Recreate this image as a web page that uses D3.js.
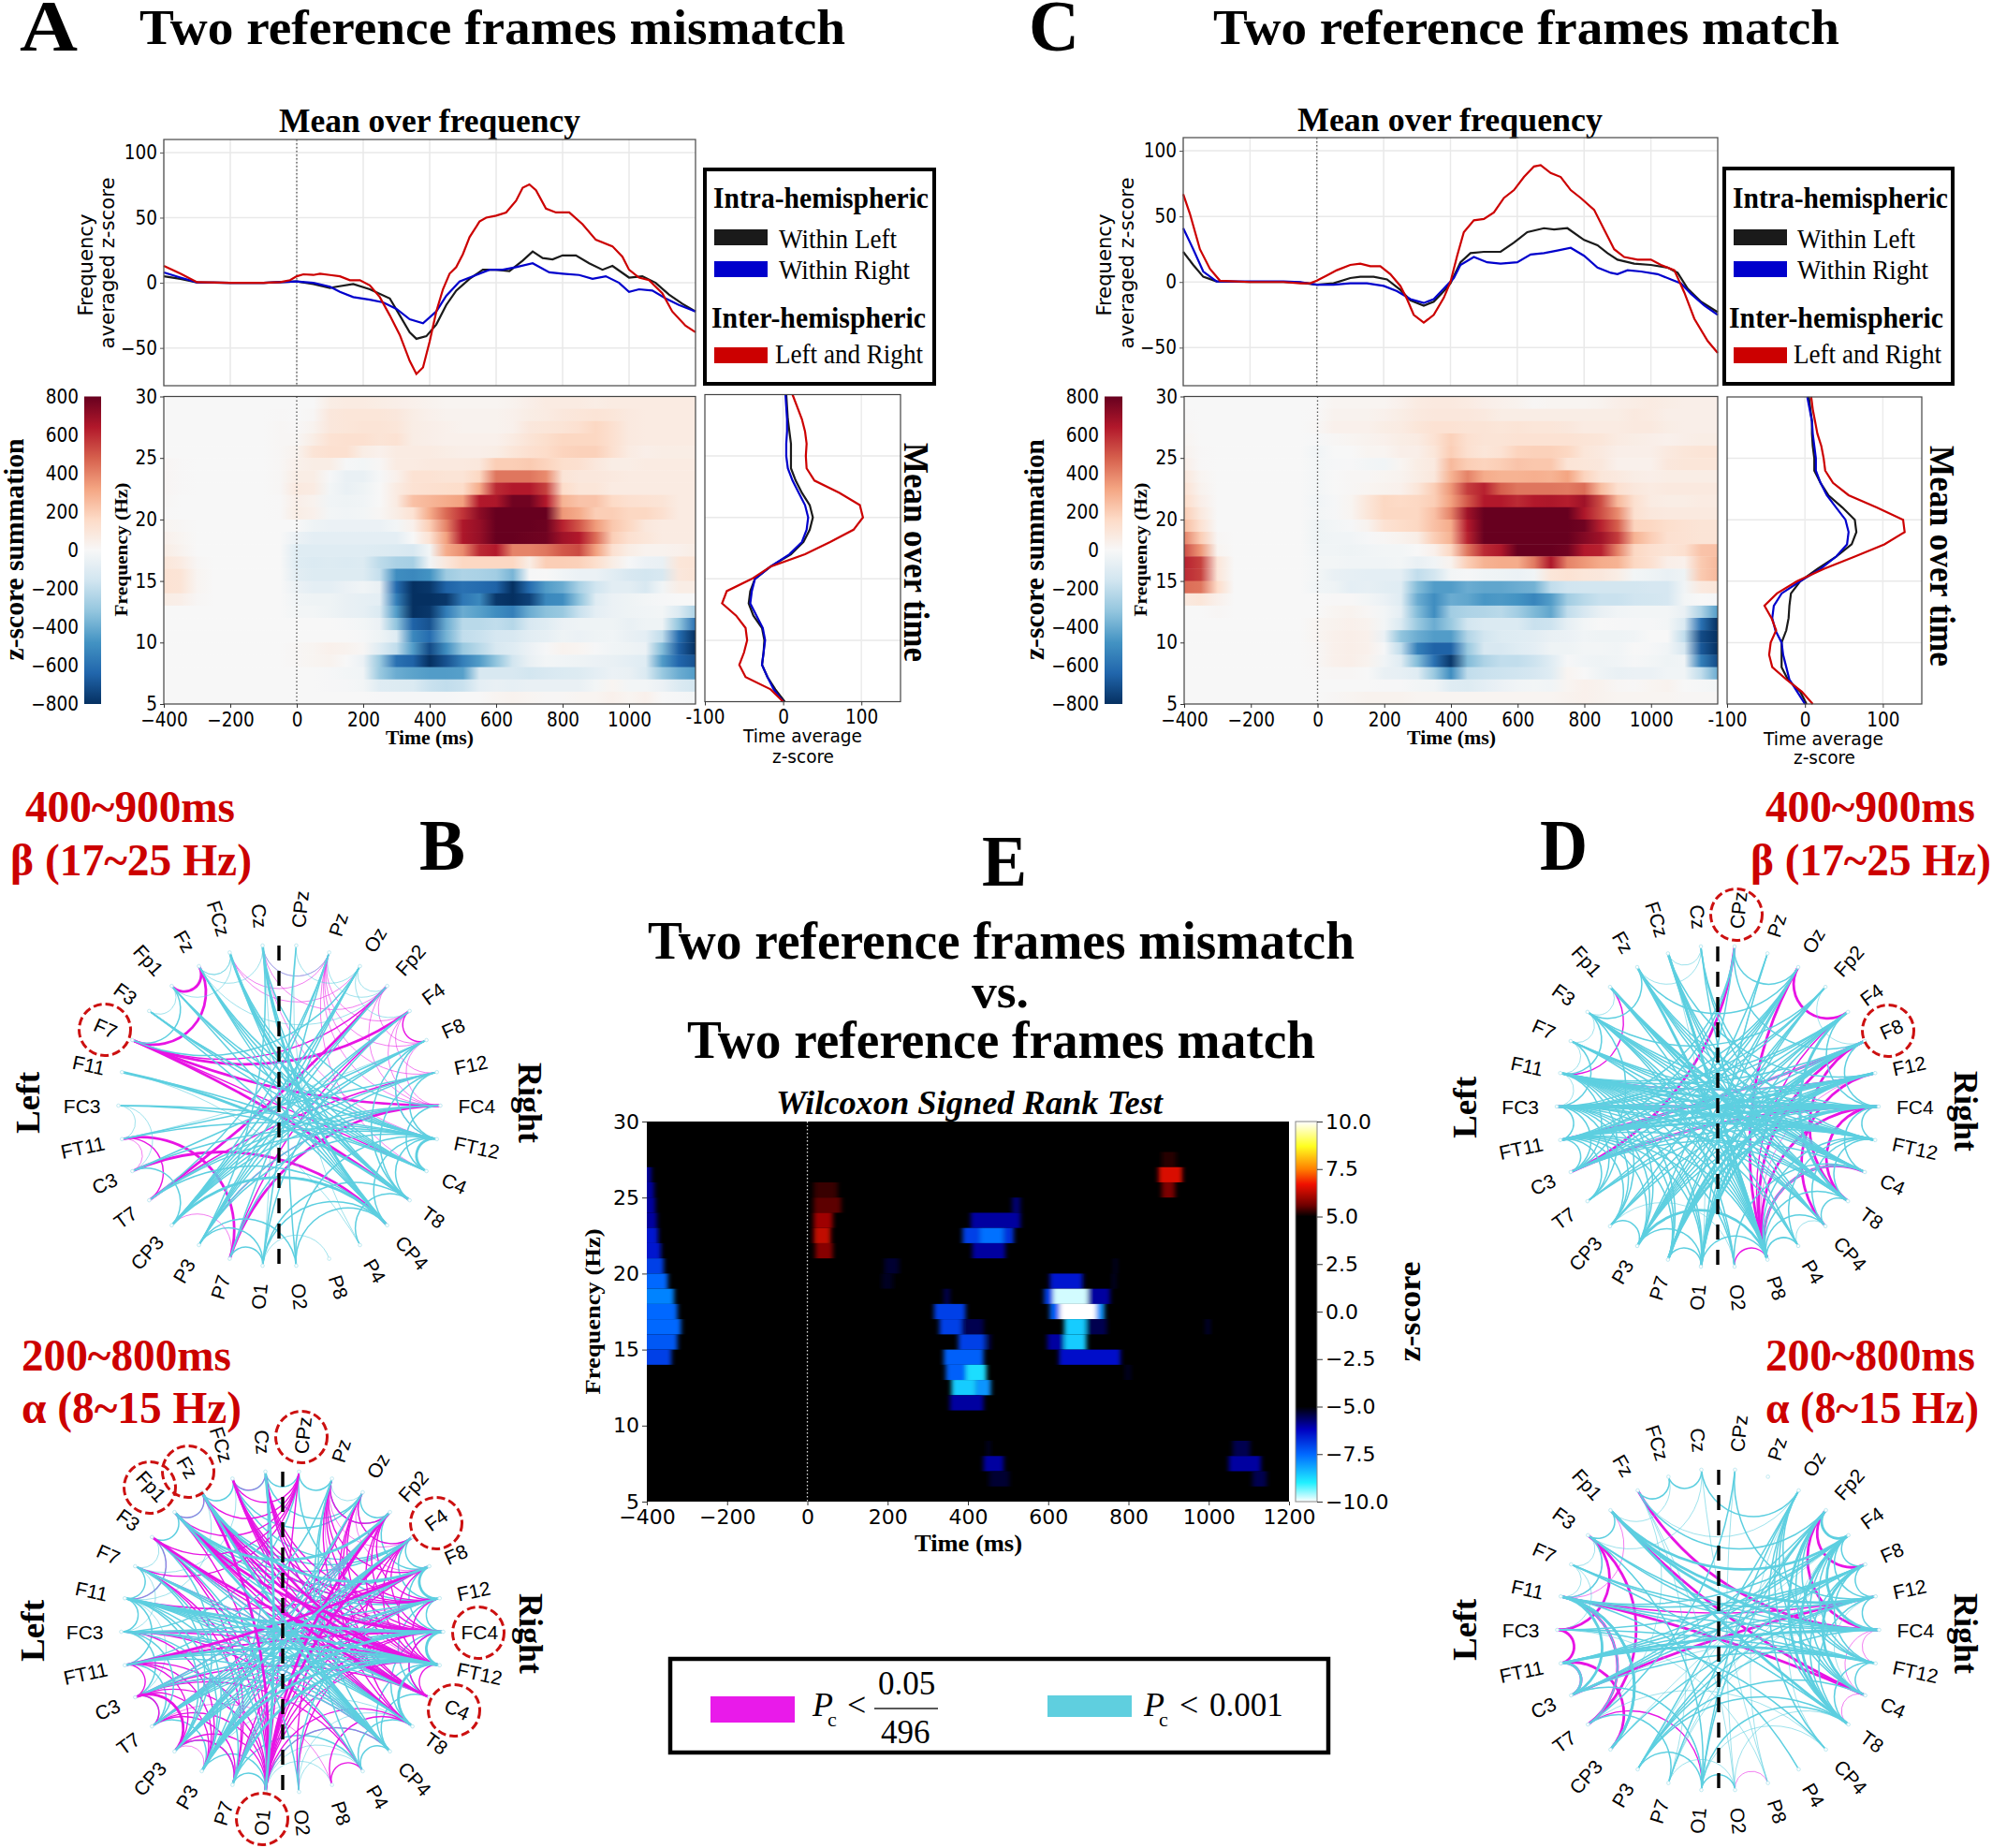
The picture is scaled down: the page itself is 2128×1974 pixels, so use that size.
<!DOCTYPE html>
<html>
<head>
<meta charset="utf-8">
<style>
html, body { margin: 0; padding: 0; background: #fff; }
svg { display: block; }
</style>
<script src="https://cdn.jsdelivr.net/npm/d3@7"></script>
</head>
<body>
<svg id="fig" width="2128" height="1974"></svg>
<script>
// time axis of the two summation heatmaps (ms), one value per column
const heatTimes = [-400,-350,-300,-250,-200,-150,-100,-50,0,50,100,150,200,250,300,350,400,450,500,550,600,650,700,750,800,850,900,950,1000,1050,1100,1150,1200];
const freqs = [29,28,27,26,25,24,23,22,21,20,19,18,17,16,15,14,13,12,11,10,9,8,7,6,5];
const timeTicks = [-400,-200,0,200,400,600,800,1000];
const eTimeTicks = [-400,-200,0,200,400,600,800,1000,1200];
const freqTicks = [5,10,15,20,25,30];
const frameYTicks = [-50,0,50,100];
const sideXTicks = [-100,0,100];
const sumTicks = [-800,-600,-400,-200,0,200,400,600,800];
const zTicks = [-10,-7.5,-5,-2.5,0,2.5,5,7.5,10];

// A: mean over frequency, [time, value]
const aBlack = [[-400,5],[-350,3],[-300,.3],[-200,0],[-100,0],[-50,.5],[0,1],[50,-1],[100,-4],[120,-3],[170,-1],[220,-5],[280,-12],[310,-25],[340,-38],[360,-43],[390,-41],[420,-32],[450,-17],[480,-6],[520,3],[560,10],[600,10],[640,9],[680,17],[710,24],[740,19],[770,18],[800,21],[840,21],[880,15],[920,10],[950,13],[1000,4],[1040,5],[1080,0],[1120,-9],[1160,-16],[1200,-22]];
const aBlue = [[-400,8],[-350,4],[-300,.3],[-200,0],[-100,0],[-50,.5],[0,1],[50,0],[100,-3],[130,-7],[170,-11],[220,-13],[260,-15],[300,-20],[340,-28],[380,-31],[420,-22],[450,-10],[490,1],[540,6],[580,10],[620,10],[660,12],[710,15],[760,8],[800,7],[850,6],[890,3],[930,5],[970,0],[1000,-7],[1030,-5],[1070,-6],[1110,-12],[1150,-17],[1200,-22]];
const aRed = [[-400,13],[-350,7],[-300,.5],[-200,0],[-100,0],[-50,.5],[-20,2],[0,5],[20,6.5],[50,6],[70,7],[100,6],[130,5],[160,2],[190,2],[220,-2],[250,-11],[280,-25],[310,-40],[340,-60],[360,-70],[380,-65],[400,-45],[420,-22],[440,-5],[460,7],[480,12],[500,22],[520,35],[550,47],[570,50],[600,51.5],[630,54],[660,63],[680,73],[700,75.5],[720,71],[750,57],[780,54],[820,54],[860,45],[900,33],[950,28],[980,20],[1000,10],[1030,4],[1060,2],[1100,-8],[1130,-22],[1170,-33],[1200,-38]];

// C: mean over frequency, [time, value]
const cBlack = [[-400,23],[-370,13],[-340,4],[-300,.5],[-200,0],[-100,0],[-50,-.5],[0,-2],[50,-1],[100,3],[130,4],[170,4],[210,2],[250,-6],[280,-14],[320,-18],[350,-15],[380,-7],[400,-1],[430,15],[460,22],[500,23],[550,23],[590,30],[630,38],[680,41],[710,40],[750,41],[800,32],[840,28],[870,22],[900,17],[950,14],[1000,13],[1050,11],[1080,7],[1110,-5],[1150,-15],[1200,-23]];
const cBlue = [[-400,41],[-370,25],[-340,8],[-300,.5],[-200,.5],[-100,.5],[-50,0],[0,-2],[50,-2],[100,-1],[150,-1],[200,-3],[240,-7],[280,-13],[320,-16],[350,-13],[380,-5],[410,3],[430,13],[470,19],[510,15],[550,14],[600,15],[640,21],[680,22],[720,24],[760,26],[800,20],[840,11],[880,7],[900,6],[930,9],[970,8],[1020,6],[1060,2],[1090,-1],[1120,-9],[1160,-18],[1200,-25]];
const cRed = [[-400,67],[-380,52],[-350,25],[-320,10],[-290,1],[-200,0],[-100,0],[-50,-1],[-20,-1],[0,1],[30,5],[60,9],[100,13],[130,14],[160,12],[190,12],[220,6],[250,-3],[270,-13],[290,-25],[320,-31],[350,-25],[380,-12],[400,0],[420,20],[440,38],[470,47],[500,48],[530,53],[560,64],[590,70],[620,80],[650,88],[670,89],[700,83],[730,80],[760,70],[790,64],[830,55],[860,40],[890,25],[920,19],[960,17],[1000,17],[1030,13],[1070,9],[1100,-8],[1130,-28],[1170,-45],[1200,-54]];

// mean over time: one value per Hz, 5 up to 30
const sideFreqs = [5,6,7,8,9,10,11,12,13,14,15,16,17,18,19,20,21,22,23,24,25,26,27,28,29,30];
const aSideRed = [0,-16,-48,-56,-50,-46,-48,-60,-78,-72,-40,-16,28,60,90,102,98,72,40,30,29,30,28,24,18,12];
const aSideBlack = [2,-10,-20,-27,-25,-24,-27,-38,-44,-42,-36,-16,10,26,34,38,34,24,16,10,10,10,8,6,5,4];
const aSideBlue = [0,-12,-20,-27,-25,-23,-26,-34,-42,-40,-36,-16,8,24,30,32,28,20,12,6,4,4,5,5,4,3];
const cSideRed = [10,-4,-24,-42,-46,-44,-37,-43,-52,-36,-10,24,64,102,128,126,92,56,36,26,24,21,16,13,10,8];
const cSideBlack = [2,-6,-22,-30,-30,-30,-24,-21,-20,-18,-6,16,40,60,66,64,48,30,20,12,12,10,9,9,7,5];
const cSideBlue = [0,-10,-20,-24,-28,-30,-38,-42,-40,-30,-6,20,40,54,56,52,40,28,20,14,14,12,10,9,6,3];

// z-score summation, rows follow freqs, columns follow heatTimes
const aHeat = [
[0,0,0,0,0,0,0,0,0,0,60,70,70,60,50,40,30,20,20,20,20,30,50,70,70,70,60,70,70,70,70,70,70],
[0,0,0,0,0,0,0,5,0,10,90,100,100,100,90,60,40,30,30,30,30,40,60,70,90,100,110,100,80,70,70,70,70],
[0,0,0,0,0,0,0,10,5,30,90,100,110,110,100,60,50,40,30,30,30,40,90,100,110,130,170,130,80,70,70,70,70],
[0,0,0,0,0,0,0,10,10,60,120,130,130,110,120,60,50,40,40,40,40,70,110,140,170,170,170,130,80,70,70,70,70],
[0,0,0,0,0,0,0,10,30,110,130,130,60,40,70,70,70,60,50,50,60,100,130,150,180,190,190,130,70,50,60,60,60],
[15,5,0,0,0,0,0,10,40,60,60,-10,-20,10,70,70,80,80,80,90,200,200,210,180,140,130,90,60,60,70,70,70,70],
[15,5,0,0,0,0,0,10,60,60,-10,-60,-60,-10,40,120,120,110,110,170,430,430,430,380,110,90,90,80,70,70,70,70,70],
[15,5,0,0,0,0,0,10,80,70,-20,-60,-40,0,70,120,130,140,150,300,600,640,640,550,150,100,100,70,70,70,70,70,70],
[10,0,0,0,0,0,0,5,50,30,-30,-40,-30,0,70,240,270,300,330,640,650,780,780,640,280,230,230,160,130,120,110,70,70],
[5,0,0,0,0,0,0,5,60,40,-20,-30,-20,10,60,120,300,460,580,720,800,800,800,800,350,300,200,200,170,170,130,70,70],
[20,10,0,0,0,0,0,0,0,-40,-50,-50,-50,-50,-20,40,200,400,650,700,800,800,800,790,620,500,340,220,170,90,70,70,70],
[40,20,0,0,0,0,0,0,-50,-80,-80,-80,-80,-80,-80,0,120,330,650,700,800,800,790,780,680,640,450,200,130,100,70,70,70],
[60,30,0,0,0,0,0,0,-100,-100,-100,-100,-100,-110,-120,-130,-20,300,380,600,640,400,400,430,500,530,330,130,60,30,30,40,60],
[100,70,10,0,0,0,0,0,-100,-120,-110,-120,-110,-210,-260,-270,-30,90,170,170,170,170,60,200,200,190,140,60,-10,-50,-60,100,110],
[120,110,20,0,0,0,0,0,-90,-110,-110,-110,-110,-190,-500,-520,-480,-290,-250,-260,-280,-370,-10,0,-30,-50,-50,-90,-130,-150,-130,90,110],
[120,110,20,0,0,0,0,0,-50,-80,-80,-50,-30,-60,-620,-800,-780,-650,-600,-620,-650,-800,-620,-450,-400,-260,-160,-90,-90,-130,-30,60,60],
[60,50,10,0,0,0,0,0,-30,-40,-40,-60,-70,-80,-550,-800,-800,-780,-580,-520,-780,-800,-750,-520,-500,-320,-100,-50,-40,-20,-10,0,0],
[0,0,0,0,0,0,0,0,-20,-20,-40,-60,-70,-120,-450,-800,-780,-560,-400,-440,-500,-550,-400,-330,-300,-180,-80,-50,-40,-30,-20,-120,-250],
[0,0,0,0,0,0,0,0,0,0,0,-10,-20,-50,-320,-650,-700,-400,-220,-220,-200,-230,-130,-100,-50,-40,-40,-40,-60,-40,-40,-320,-600],
[0,0,0,0,0,0,0,0,0,0,0,0,-10,-40,-100,-520,-620,-380,-200,-180,-140,-130,-90,-70,-40,-50,-40,-30,-60,-80,-200,-620,-800],
[0,0,0,0,0,0,0,0,10,20,40,30,10,-100,-200,-450,-720,-500,-300,-220,-130,-100,-50,-10,30,20,-10,-30,-40,-50,-350,-660,-800],
[0,0,0,0,0,0,0,0,10,20,30,0,-50,-300,-600,-650,-800,-700,-550,-450,-320,-150,-60,-20,-30,-40,-50,-60,-80,-100,-450,-640,-700],
[0,0,0,0,0,0,0,0,0,0,-10,-20,-30,-300,-400,-430,-450,-450,-440,-130,-130,-130,-150,-130,-120,-110,-80,-50,-60,-120,-300,-400,-450],
[0,0,0,0,0,0,0,0,0,0,-5,-10,-20,-100,-110,-120,-180,-200,-180,-80,-60,-70,-60,-60,-60,-60,-20,20,-20,-20,-50,-120,-150],
[0,0,0,0,0,0,0,0,0,0,0,0,0,-5,-10,-10,-10,-10,0,0,20,30,20,10,10,20,20,40,20,40,0,-10,-20]
];
const cHeat = [
[0,0,0,0,0,0,0,0,0,20,20,20,20,40,70,80,80,70,50,40,30,10,20,20,20,30,50,60,70,60,50,50,50],
[5,0,0,0,0,0,0,0,5,30,30,30,40,60,80,90,90,90,80,60,60,60,60,60,60,60,60,80,70,50,50,50,50],
[10,0,0,0,0,0,0,0,10,40,40,40,60,70,100,120,120,110,110,100,110,100,100,90,70,70,70,80,80,60,50,50,50],
[20,0,0,0,0,0,0,0,-10,10,20,30,40,60,70,120,190,130,110,110,120,120,120,120,110,100,70,60,50,40,50,60,60],
[30,5,0,0,0,0,0,0,-30,0,0,20,20,50,50,100,200,130,100,120,180,190,190,170,100,80,50,50,50,80,100,110,110],
[50,5,0,0,0,0,0,0,-20,-10,-5,-20,-30,20,60,80,260,200,180,200,230,220,220,110,100,90,40,40,40,90,100,100,100],
[90,20,0,0,0,0,0,0,-20,0,10,10,20,30,60,90,280,400,300,280,280,290,280,320,180,100,80,60,50,60,60,60,60],
[120,30,0,0,0,0,0,0,-20,0,10,20,30,40,100,200,350,560,620,480,430,430,430,420,450,250,130,90,70,80,80,80,80],
[150,50,0,0,0,0,0,0,-30,-10,20,100,170,160,170,200,330,500,640,640,600,640,650,630,680,520,260,130,70,60,60,70,70],
[200,80,0,0,0,0,0,0,-20,-10,20,100,170,170,170,240,400,680,800,800,800,800,800,800,650,520,380,130,90,80,80,80,80],
[250,120,0,0,0,0,0,0,-40,-20,-10,30,120,150,170,240,300,640,800,800,800,800,800,800,780,620,480,180,170,140,120,110,110],
[400,200,10,0,0,0,0,0,-40,-30,-30,-10,10,30,60,200,280,620,800,800,800,800,800,800,740,680,560,280,200,130,120,110,110],
[520,350,20,0,0,0,0,0,-30,-30,-40,-30,-20,-20,0,40,170,430,600,650,800,800,800,780,640,620,400,170,130,110,130,230,240],
[620,550,100,0,0,0,0,0,-20,-20,-30,-30,-30,-20,-60,-30,30,200,280,300,300,420,650,400,350,300,280,170,130,50,40,210,260],
[600,550,100,0,0,0,0,0,-20,-60,-70,-80,-80,-80,-200,-150,-20,-10,-30,-40,-50,-30,100,120,100,90,60,-20,-40,-60,-40,210,260],
[450,430,150,0,0,0,0,0,-30,-40,-80,-70,-90,-100,-350,-450,-450,-400,-420,-420,-400,-380,-200,-160,-150,-150,-150,-150,-140,-140,-30,80,100],
[80,100,40,0,0,0,0,0,0,5,5,-20,-50,-100,-400,-500,-400,-420,-470,-460,-480,-530,-450,-280,-220,-180,-180,-160,-150,-140,-20,0,-10],
[0,0,10,0,0,0,0,0,0,20,30,10,-20,-80,-350,-500,-280,-250,-240,-220,-280,-360,-420,-200,-130,-60,-30,-20,-20,-20,-60,-250,-450],
[0,0,0,0,0,0,0,0,20,30,40,30,-20,-120,-300,-400,-300,-150,-120,-120,-120,-180,-170,-70,-20,0,-5,-10,-10,-20,-120,-600,-800],
[0,0,0,0,0,0,0,0,20,40,50,40,-50,-320,-400,-450,-450,-240,-150,-110,-100,-90,-60,-50,-30,-40,-40,-30,0,0,-200,-720,-800],
[0,0,0,0,0,0,0,0,10,40,50,40,-10,-200,-550,-650,-650,-300,-130,-130,-100,-80,-40,-40,-20,-20,-30,0,-10,-30,-130,-680,-800],
[0,0,0,0,0,0,0,0,10,40,50,30,-30,-100,-350,-600,-780,-350,-250,-200,-200,-170,-100,-10,-30,-40,-30,-10,-20,-40,-30,-550,-720],
[0,0,0,0,0,0,0,0,5,10,10,0,-60,-70,-100,-300,-500,-200,-180,-170,-160,-140,-100,20,0,-40,-60,-50,-50,-30,-30,-200,-400],
[0,0,0,0,0,0,0,0,0,0,0,0,-5,-5,-20,-30,-100,-110,-80,-50,-30,-20,-30,20,40,30,10,5,20,30,0,-10,-20],
[0,0,0,0,0,0,0,0,0,10,20,30,30,30,20,20,20,20,20,20,20,20,20,30,40,30,20,20,20,20,10,10,10]
];
const sumColors = ["#053061","#2166ac","#4393c3","#92c5de","#d1e5f0","#f7f7f7","#fddbc7","#f4a582","#d6604d","#b2182b","#67001f"];

// E: Wilcoxon cells, [frequency row, from ms, to ms, z]
const eCells = [
[26,-410,-389,-6],[25,-410,-382,-6],[24,-410,-379,-6],[23,-410,-375,-6],[22,-410,-372,-6.5],[21,-410,-365,-6.5],[20,-410,-358,-7],[19,-410,-348,-7.5],[18,-410,-332,-7.8],[17,-410,-324,-7.5],[16,-410,-315,-7.5],[15,-410,-324,-7.3],[14,-410,-339,-7],
[25,16,75,5.3],[24,16,84,5.5],[23,16,63,6],[22,16,58,6.3],[21,20,63,5.8],
[27,883,919,5.2],[26,875,934,6.5],[25,883,916,5.7],
[24,510,531,-5.7],[23,407,531,-6],[22,387,430,-7],[22,430,490,-7.6],[22,490,514,-6.8],[21,411,493,-6],
[20,192,228,-5.3],[19,185,213,-5.2],[20,764,771,-5.3],[19,760,768,-5.3],
[19,604,686,-6.5],[18,590,612,-7],[18,612,700,-9.8],[18,700,754,-6],[17,604,628,-7.4],[17,628,720,-10],[17,720,740,-8],
[16,640,695,-8.6],[16,695,746,-5.5],[15,598,640,-6],[15,640,695,-8.6],[14,627,780,-6.4],
[18,340,355,-5.5],[17,316,394,-7],[16,329,385,-7],[16,385,439,-5.5],[15,376,443,-7],[15,446,457,-5.5],[14,340,439,-7.4],
[13,345,395,-7.4],[13,395,446,-8.8],[12,359,420,-8.6],[12,420,457,-8],[11,355,439,-6],
[8,446,457,-5.2],[8,1060,1103,-5.5],[7,439,489,-6],[7,1050,1130,-6],[6,453,503,-5.3],[6,1109,1144,-5.5],[16,992,1003,-5.3],[13,792,806,-5.2]
];
const zDomain = [-10,-9,-7.5,-6.2,-5,5,5.6,6.7,7.5,8.7,10];
const zColors = ["#ffffff","#20f0ff","#0068ff","#0000c0","#000000","#000000","#700000","#f01000","#ff8000","#ffff20","#ffffff"];

// electrodes clockwise from the top, 12 degrees apart
const electrodes = ["CPz","Pz","Oz","Fp2","F4","F8","F12","FC4","FT12","C4","T8","CP4","P4","P8","O2","O1","P7","P3","CP3","T7","C3","FT11","FC3","F11","F7","F3","Fp1","Fz","FCz","Cz"];

// B, 400~900ms beta
const b1MagThin = ["FCz-Pz","FCz-Oz","Cz-Pz","Cz-Fp2","Pz-F4","Pz-F8","Pz-F12","Pz-FC4","Fp2-F8","Fp2-FC4","F4-F12","F4-FC4","F8-FC4","F8-FT12","FT11-C3","P7-CP3","Cz-FT12","Pz-C4"];
const b1Mag = ["F7-Fp2","T7-F12","FT11-T7","F7-C4","P3-FC4","F4-F8","P7-F4"];
const b1MagThick = ["Fz-Fp1","Fz-F7","F7-F4","F7-T8","T7-Fp2","P7-FC4","C3-CP4","FT11-P7","F7-FC4"];
const b1CyanThin = ["FCz-Fz","Fz-Cz","FCz-Fp1","F3-Fp1","CPz-Oz","Pz-Fp2","Oz-Fp2","FC3-C3","FC3-FT11","P8-O1","Pz-Cz","FT11-F8","CPz-P4","Cz-O1","Fz-Fp2","FCz-Fz","Oz-F4","P4-F11"];
const b1Cyan = ["F11-C4","FC3-FT12","FC3-C4","FT11-FT12","FT11-F12","C3-FT12","C3-F8","T7-FT12","T7-FC4","CP3-F4","CP3-F8","CP3-F12","CP3-Fp2","CP3-Pz","CP3-Oz","CP3-C3","P3-F4","P3-F8","P3-Oz","P3-Fp2","P3-FC4","P3-FT12","P3-Cz","O1-P7","O1-Pz","O1-P3","O1-CP4","O1-T8","O1-F4","O2-CPz","O2-CP4","O2-FT12","P4-T8","CP4-Fp1","CP4-Fz","CP4-FCz","CP4-F3","CP4-Cz","CP4-CP3","CP4-T7","T8-FCz","T8-Fz","T8-Cz","T8-FT12","C4-Fz","C4-FCz","C4-Fp1","C4-F3","FT12-Fp1","FT12-Fz","FT12-F3","FT12-CP4","FT12-F8","FT12-F12","Fp1-F7","F7-Oz","F3-FT12","FCz-FT12","Cz-FC4","Oz-CP3","Pz-T7","F12-P7","F8-T8","F12-T8","FC4-CP3","FC4-C4","P7-Oz","P3-O2"];
const b1CyanThick = ["F11-T8","C4-FT12","FCz-T8","Cz-CP4","CP3-CP4"];

// B, 200~800ms alpha
const b2MagThin = ["Fz-Fp1","F3-F11","FCz-Cz","Pz-F4","Oz-F8","FT11-F12","Pz-FT12","O1-CP4","F7-T8","F11-FT12","P8-T7","C3-FT12","CP3-P3"];
const b2Mag = ["Fz-T8","Fz-C4","Fz-FT12","Fz-FC4","Fz-F12","Fz-CP4","FCz-C4","FCz-FT12","FCz-FC4","FCz-F12","FCz-T8","Cz-F12","Cz-FC4","Cz-FT12","Cz-C4","CPz-F3","CPz-Fz","CPz-FCz","CPz-Fp1","CPz-F7","CPz-O1","Pz-FC4","Pz-F12","Pz-F8","Pz-Fp2","Pz-C4","Oz-F4","Oz-FT12","Oz-C4","Oz-T8","Oz-P7","Fp2-F12","Fp2-FC4","Fp2-FT12","Fp2-C3","Fp2-T7","Fp2-O1","Fp2-CP3","F4-FC4","F4-FT12","F4-T8","F4-O1","F4-P7","F8-FT12","F8-O1","F8-P3","F8-T7","F12-FT12","F12-O1","F12-P7","FC4-O1","FC4-P3","FC4-C4","FC4-FT11","FT12-C4","FT12-O1","FT12-P7","C4-F3","C4-Fp1","C4-F7","C4-C3","T8-F3","T8-Fp1","T8-O1","CP4-C3","CP4-FC3","P4-FC3","P4-C3","P8-P4","P8-T8","O2-FC4","O2-Fp2","O1-F3","O1-F7","O1-Fp1","O1-Fz","O1-Cz","O1-T7","O1-C3","O1-FT11","O1-CP3","P7-F7","P7-F3","P7-T7","P7-CP3","P3-C3","P3-FC3","P3-FT11","CP3-FT11","T7-C3","C3-FT11","C3-CP3","F11-F8","F3-T8","FT11-FT12","FT11-FC4","FC3-FT12","FC3-FC4"];
const b2MagThick = ["FT11-F8","F3-FT12","Fp1-FC4","Fp1-C4","Fz-FT12","FCz-FT12","F4-O1","Fp2-O1","O1-Fz","C3-CP3"];
const b2CyanThin = ["Pz-Oz","Oz-F4","FCz-F7","Fz-F11","F7-F3","F7-FC3","P8-O1","O1-P4","O2-P4","C3-F11","FT11-P3","T8-O2","P7-F8","T8-P3","CP4-O1"];
const b2CyanUnder = ["Fp1-Fz","Fz-FCz","FCz-Cz","Cz-CPz","CPz-Pz","Pz-Fp2","Oz-Fp2","Fp2-F8","F4-F8","F4-F12","F8-FC4","F12-FC4","F12-C4","FC4-C4","FC4-T8","FT12-T8","FT12-CP4","C4-CP4","T8-P4","CP4-P4","P4-P7","CP4-O1","O1-P3","O1-P7","P7-CP3","P3-T7","CP3-C3","T7-FT11","T7-C3","C3-FC3","FT11-F11","FC3-F11","F11-F3","F7-F11","F3-Fp1","Fp1-F4","Fp1-F8","Fp1-F12","Fp1-FT12","Fz-F4","Fz-F8","Fz-F12","Fz-T8","Fz-CP4","FCz-F4","FCz-Oz","FCz-FC4","Cz-Oz","Cz-O1","Cz-C4","Cz-P3","CPz-F12","CPz-FC3"];
const b2Cyan = ["Pz-CP4","Pz-P4","Pz-FT11","Oz-P3","Oz-CP3","Fp2-C3","Fp2-T7","Fp2-P3","Fp2-CP3","F4-T7","F4-CP3","F4-P3","F4-P7","F8-C3","F8-FT11","F8-T7","F8-P3","F12-CP3","F12-FC3","F12-P7","F12-T7","FC4-FC3","FC4-T7","FC4-CP3","FT12-F11","FT12-C3","FT12-T7","FT12-CP3","FT12-P7","C4-F11","C4-FT11","C4-F7","T8-F3","T8-F7","CP4-F3","CP4-F11","CP4-FC3","CP4-C3","CP4-F7","P4-F11","O2-F3","O1-F11","F11-T8","F11-CP3","F11-P3","FC3-T7","FC3-P7","FC3-T8","FT11-CP4","F7-CP3","F7-P3","F3-CP3","T7-F8","F12-O2"];
const b2CyanThick = ["F11-FC4","F11-FT12","FT11-FT12","P3-FT12","P3-FC4","P7-FT12","T8-FT12","CP4-Fz","CP4-Fp1","Fz-F8","F8-F12","FC4-FT12","Fp1-Fp2","F4-CP3","O1-Cz"];

// D, 400~900ms beta
const d1MagThin = ["P8-F12"];
const d1Mag = ["Fp1-F11","F11-F12","O2-P8","P8-F4"];
const d1MagThick = ["FC3-FC4","Oz-F4","P8-Oz","P8-F8","P8-FC4","CP4-F12","T8-FC4","T8-F8","C4-P8","C3-FC4","FT11-F8","C3-CPz"];
const d1CyanThin = ["FCz-Cz","Fz-Cz","Fp1-F3","F3-F7","F7-F11","FC3-F11","FCz-O1","Fp2-F8","P4-CP4","P4-P8","O2-CP3","Pz-O1"];
const d1Cyan = ["Fz-F3","Fz-Oz","Fz-T8","Fz-C4","Fz-FT12","Fz-FC4","FCz-T8","FCz-C4","FCz-CP4","FCz-F12","Cz-C4","Cz-FT12","Cz-P4","CPz-Oz","CPz-F8","CPz-P3","CPz-FC3","CPz-FT11","Pz-O1","Pz-CP3","Oz-T7","Oz-P3","Oz-P7","Oz-C3","Oz-FT11","Oz-FC3","Fp2-FT11","Fp2-FC3","Fp2-F3","Fp2-P3","Fp2-P7","Fp2-O1","F4-F11","F4-C3","F4-FC3","F4-CP3","F4-P3","F4-O1","F8-F11","F8-FT11","F8-P7","F8-O1","F8-P3","F8-T7","F12-FC3","F12-FT11","F12-C3","F12-CP3","F12-P3","F12-P7","F12-F11","FC4-F11","FC4-F7","FC4-F3","FC4-P3","FC4-C3","FC4-T7","FC4-FT12","FC4-F8","FC4-F4","FT12-F7","FT12-F3","FT12-FT11","FT12-C3","FT12-T8","FT12-P8","FT12-CP4","FT12-P4","C4-F7","C4-F3","C4-F11","C4-C3","C4-P8","C4-O2","C4-FC4","T8-F11","T8-F3","T8-Fp1","T8-FT11","T8-FC3","T8-CP4","T8-P8","CP4-F11","CP4-F7","CP4-Fp1","CP4-FC3","CP4-P8","P4-F11","P4-F3","P4-P8","P8-Fp1","P8-F3","P8-F7","P8-FC3","P8-F11","P8-FT11","P8-O1","O2-F3","O2-F11","O2-FT11","O1-F11","O1-FC3","O1-FT11","O1-P3","O1-P7","P7-FT11","P7-F11","P7-FC3","P3-F11","P3-FC3","P3-FT11","P3-CP3","CP3-FT11","CP3-FC3","CP3-F11","T7-FT11","T7-FC3","T7-F11","C3-FC3","C3-FT11","C3-F11","FT11-FC3","F11-F3","F7-FC3","F3-C3"];
const d1CyanThick = ["F11-FC4","F11-FT12","FC3-FC4","FC3-FT12","FT11-FC4","FT11-FT12","FT11-F12","P7-F12","P7-FC4","P7-F8","O1-F8","O1-F12","P3-P8","P8-FCz","P8-Fz","Fp1-T8","Fp1-C4","FCz-P8","T8-F4","F8-O1"];

// D, 200~800ms alpha
const d2MagThin = ["F3-F11","Fp1-F11","FC4-FT12","FC4-C4","T8-C4","O2-P8"];
const d2Mag = ["FT11-FT12","F11-F12","T7-O1","Fp1-F12"];
const d2MagThick = ["Fz-FC4","Fp1-C4","F3-FC3","FC3-FT11","FT11-C3","F11-T7","CP3-FT11","C3-F12","F11-C4","Fp2-F8","Fp2-FC4","T7-F3"];
const d2CyanThin = ["Fz-Oz","FCz-Fp1","Cz-F3","F7-F3","F7-F11","F7-FC3","Fz-P7","F4-CP4","F8-P3","F8-C3","F12-P7","O2-Fz","O2-P7","O2-T8","O2-CPz","P8-Oz","P8-FC3","P3-Fp2","CP4-O1","CP3-F4","F8-P7","T7-CP4","T8-F7","C3-O1","F12-C4","FC4-C3","Fz-T7","Cz-P8"];
const d2Cyan = ["Fz-Fp2","Fz-FCz","FCz-Cz","Cz-Oz","CPz-T7","CPz-F12","Oz-FT12","Oz-C4","Oz-T8","Oz-CP4","Oz-P3","F3-Fp1","F3-F11","F3-FC4","F3-FT12","F7-F12","F7-T8","F7-FC4","F11-FC4","F11-FT12","F11-F8","F11-F4","FC3-F8","FC3-FT12","FT11-F12","FT11-FC4","FT11-F8","FT11-F4","C3-F4","C3-F8","C3-FT12","C3-Fp2","T7-F11","P3-FC4","P3-O1","P3-F12","P3-C4","P3-T8","P3-F8","CP3-F11","CP3-F12","P7-Fp2","P7-T7","O1-Oz","O1-F3","O1-Fp2","O1-C3","O1-O2","P4-F11","T8-F4","T8-F8","T8-F12","FT12-C4","FT12-F8","FT12-F4","FT12-Fp2","FT12-T8","C4-F4","C4-Fp2","F4-F8","F4-F12","F8-F12","F12-FC4","CP4-FC3","O1-T8"];
const d2CyanThick = ["Fp1-FC4","Fp1-T8","Fp1-F4","Fp2-F4","CP3-F11","FT11-FT12","FT11-FC4","C3-FT11","Fp2-T8","F8-C4","F4-T8","F11-CP3","C3-F11","Fp1-F12","FC4-F4"];

const serif = "'Liberation Serif', serif";
const sansCond = "'DejaVu Sans Condensed', 'DejaVu Sans', sans-serif";
const dejavu = "'DejaVu Sans', sans-serif";
const sans = "'Liberation Sans', sans-serif";
const svg = d3.select("#fig");
const defs = svg.append("defs");
const lineColors = { black: "#1a1a1a", blue: "#0000cc", red: "#cc0000" };
const magenta = "#e814e4";
const cyan = "#5dcfe0";
const plainTick = d3.format("d");

// text fitted to a measured span
function fit(parent, str, x0, x1, base, size, o = {}) {
  return parent.append("text")
    .attr("x", x0).attr("y", base)
    .attr("textLength", x1 - x0).attr("lengthAdjust", "spacingAndGlyphs")
    .attr("font-family", o.family || serif)
    .attr("font-size", size)
    .attr("font-weight", o.weight || "bold")
    .attr("font-style", o.style || "normal")
    .attr("fill", o.fill || "#000")
    .text(str);
}

// rotated text, centred on (cx, cy), fitted to a length
function fitRot(parent, str, cx, cy, len, size, rot, o = {}) {
  return parent.append("text")
    .attr("transform", `translate(${cx},${cy}) rotate(${rot})`)
    .attr("text-anchor", "middle").attr("dominant-baseline", "central")
    .attr("textLength", len).attr("lengthAdjust", "spacingAndGlyphs")
    .attr("font-family", o.family || serif)
    .attr("font-size", size)
    .attr("font-weight", o.weight || "bold")
    .text(str);
}

function styleAxis(g, size, family, color) {
  g.selectAll("text").attr("font-size", size).attr("font-family", family).attr("fill", "#000");
  g.selectAll("line").attr("stroke", color || "#333");
  g.select(".domain").attr("stroke", color || "#333");
}

function frameChart(box, black, blue, red) {
  const g = svg.append("g");
  const x = d3.scaleLinear([-400, 1200], [box.x0, box.x1]);
  const y = d3.scaleLinear([-79, 110], [box.y1, box.y0]);
  g.append("g").selectAll("line").data(timeTicks).join("line")
    .attr("x1", d => x(d)).attr("x2", d => x(d)).attr("y1", box.y0).attr("y2", box.y1).attr("stroke", "#e9e9e9").attr("stroke-width", 1.5);
  g.append("g").selectAll("line").data(frameYTicks).join("line")
    .attr("x1", box.x0).attr("x2", box.x1).attr("y1", d => y(d)).attr("y2", d => y(d)).attr("stroke", "#e9e9e9").attr("stroke-width", 1.5);
  g.append("line").attr("x1", x(0)).attr("x2", x(0)).attr("y1", box.y0).attr("y2", box.y1)
    .attr("stroke", "#555").attr("stroke-width", 1.3).attr("stroke-dasharray", "1.5,2.5");
  const line = d3.line().x(d => x(d[0])).y(d => y(d[1]));
  [[black, lineColors.black], [blue, lineColors.blue], [red, lineColors.red]].forEach(([s, c]) => {
    g.append("path").datum(s).attr("d", line).attr("fill", "none").attr("stroke", c).attr("stroke-width", 2.2);
  });
  g.append("rect").attr("x", box.x0).attr("y", box.y0).attr("width", box.x1 - box.x0).attr("height", box.y1 - box.y0)
    .attr("fill", "none").attr("stroke", "#555").attr("stroke-width", 1.3);
  const ax = g.append("g").attr("transform", `translate(${box.x0},0)`)
    .call(d3.axisLeft(y).tickValues(frameYTicks).tickSize(4).tickFormat(plainTick));
  styleAxis(ax, 20.5, sansCond, "#555");
  ax.select(".domain").remove();
}

function sumHeat(box, cb, id, matrix) {
  const g = svg.append("g");
  const x = d3.scaleLinear([-400, 1200], [box.x0, box.x1]);
  const y = d3.scaleLinear([5, 30], [box.y1, box.y0]);
  const color = d3.scaleLinear().domain(d3.range(11).map(i => -800 + i * 160)).range(sumColors).clamp(true);
  const pct = d3.scaleLinear([-400, 1200], [0, 100]);
  freqs.forEach((f, r) => {
    const grad = defs.append("linearGradient").attr("id", `${id}r${f}`)
      .attr("gradientUnits", "userSpaceOnUse")
      .attr("x1", box.x0).attr("x2", box.x1).attr("y1", 0).attr("y2", 0);
    grad.selectAll("stop").data(heatTimes).join("stop")
      .attr("offset", d => pct(d) + "%")
      .attr("stop-color", (d, i) => color(matrix[r][i]));
    g.append("rect").attr("x", box.x0).attr("y", y(f + 1)).attr("width", box.x1 - box.x0)
      .attr("height", y(f) - y(f + 1) + 0.4).attr("fill", `url(#${id}r${f})`);
  });
  g.append("line").attr("x1", x(0)).attr("x2", x(0)).attr("y1", box.y0).attr("y2", box.y1)
    .attr("stroke", "#555").attr("stroke-width", 1.3).attr("stroke-dasharray", "1.5,2.5");
  g.append("rect").attr("x", box.x0).attr("y", box.y0).attr("width", box.x1 - box.x0).attr("height", box.y1 - box.y0)
    .attr("fill", "none").attr("stroke", "#444").attr("stroke-width", 1.2);
  const ax = g.append("g").attr("transform", `translate(0,${box.y1})`)
    .call(d3.axisBottom(x).tickValues(timeTicks).tickSize(4).tickPadding(5).tickFormat(plainTick));
  styleAxis(ax, 20.5, sansCond);
  ax.select(".domain").remove();
  const ay = g.append("g").attr("transform", `translate(${box.x0},0)`)
    .call(d3.axisLeft(y).tickValues(freqTicks).tickSize(4).tickPadding(3).tickFormat(plainTick));
  styleAxis(ay, 20.5, sansCond);
  ay.select(".domain").remove();

  // colorbar
  const cy = d3.scaleLinear([-800, 800], [box.y1, box.y0]);
  const cg = defs.append("linearGradient").attr("id", `${id}cb`).attr("x1", 0).attr("x2", 0).attr("y1", 1).attr("y2", 0);
  cg.selectAll("stop").data(color.domain()).join("stop")
    .attr("offset", d => (d + 800) / 16 + "%").attr("stop-color", d => color(d));
  g.append("rect").attr("x", cb.x0).attr("y", box.y0).attr("width", cb.x1 - cb.x0).attr("height", box.y1 - box.y0).attr("fill", `url(#${id}cb)`);
  const ac = g.append("g").attr("transform", `translate(${cb.x0},0)`)
    .call(d3.axisLeft(cy).tickValues(sumTicks).tickSize(0).tickPadding(6).tickFormat(plainTick));
  styleAxis(ac, 20.5, sansCond);
  ac.select(".domain").remove();
}

function sidePlot(box, black, blue, red) {
  const g = svg.append("g");
  const x = d3.scaleLinear([-100, 150], [box.x0, box.x1]);
  const y = d3.scaleLinear([5, 30], [box.y1, box.y0]);
  g.append("g").selectAll("line").data(freqTicks.slice(1, 5)).join("line")
    .attr("x1", box.x0).attr("x2", box.x1).attr("y1", d => y(d)).attr("y2", d => y(d)).attr("stroke", "#e9e9e9").attr("stroke-width", 1.5);
  g.append("g").selectAll("line").data(sideXTicks.slice(1)).join("line")
    .attr("x1", d => x(d)).attr("x2", d => x(d)).attr("y1", box.y0).attr("y2", box.y1).attr("stroke", "#ececec").attr("stroke-width", 1.5);
  const line = d3.line().x(d => x(d)).y((d, i) => y(sideFreqs[i]));
  [[black, lineColors.black], [blue, lineColors.blue], [red, lineColors.red]].forEach(([s, c]) => {
    g.append("path").datum(s).attr("d", line).attr("fill", "none").attr("stroke", c).attr("stroke-width", 2.2);
  });
  g.append("rect").attr("x", box.x0).attr("y", box.y0).attr("width", box.x1 - box.x0).attr("height", box.y1 - box.y0)
    .attr("fill", "none").attr("stroke", "#444").attr("stroke-width", 1.2);
  const ax = g.append("g").attr("transform", `translate(0,${box.y1})`)
    .call(d3.axisBottom(x).tickValues(sideXTicks).tickSize(4).tickPadding(5).tickFormat(d => String(d)));
  styleAxis(ax, 20.5, sansCond);
  ax.select(".domain").remove();
}

function legendBox(b, t) {
  const g = svg.append("g");
  g.append("rect").attr("x", b.x0).attr("y", b.y0).attr("width", b.x1 - b.x0).attr("height", b.y1 - b.y0)
    .attr("fill", "#fff").attr("stroke", "#000").attr("stroke-width", 4);
  fit(g, "Intra-hemispheric", t.h0, t.h0 + 230, 222, 31);
  g.append("rect").attr("x", t.s0).attr("y", 245).attr("width", 57).attr("height", 17).attr("fill", lineColors.black);
  fit(g, "Within Left", t.w0, t.w0 + 126, 265, 29, { weight: "normal" });
  g.append("rect").attr("x", t.s0).attr("y", 279).attr("width", 57).attr("height", 17).attr("fill", lineColors.blue);
  fit(g, "Within Right", t.w0, t.w0 + 140, 298, 29, { weight: "normal" });
  fit(g, "Inter-hemispheric", t.h1, t.h1 + 229, 350, 31);
  g.append("rect").attr("x", t.s0).attr("y", 371).attr("width", 57).attr("height", 17).attr("fill", lineColors.red);
  fit(g, "Left and Right", t.w0 - 4, t.w0 + 154, 388, 29, { weight: "normal" });
}

function chord(cx, cy, R, lineX, lineY0, lineY1, groups, rings) {
  const g = svg.append("g");
  const pos = name => {
    const a = electrodes.indexOf(name) * 12 + 6;
    const t = a * Math.PI / 180;
    return { a, x: cx + R * Math.sin(t), y: cy - R * Math.cos(t) };
  };
  // every link leaves the rim at right angles, so it is an arc tangent to both radii
  const linkPath = s => {
    const [p, q] = s.split("-").map(pos);
    let delta = Math.abs(p.a - q.a);
    if (delta > 180) delta = 360 - delta;
    const p2 = d3.path();
    p2.moveTo(p.x, p.y);
    if (delta >= 179) p2.lineTo(q.x, q.y);
    else p2.arcTo(cx, cy, q.x, q.y, R * Math.tan(delta * Math.PI / 360));
    p2.lineTo(q.x, q.y);
    return p2.toString();
  };
  groups.forEach(([links, color, width, opacity]) => {
    g.append("g").selectAll("path").data(links).join("path")
      .attr("d", linkPath).attr("fill", "none").attr("stroke", color)
      .attr("stroke-width", width).attr("stroke-opacity", opacity);
  });
  g.append("g").selectAll("circle").data(electrodes).join("circle")
    .attr("cx", d => pos(d).x).attr("cy", d => pos(d).y).attr("r", 1.8)
    .attr("fill", "#fff").attr("stroke", "#bfeaf2").attr("stroke-width", 1);
  g.append("g").selectAll("text").data(electrodes).join("text")
    .attr("font-family", sans).attr("font-size", 21).attr("dominant-baseline", "central")
    .attr("text-anchor", d => pos(d).a < 180 ? "start" : "end")
    .attr("transform", d => {
      const p = pos(d);
      const t = p.a * Math.PI / 180;
      const rr = R + 19;
      const rot = p.a < 180 ? p.a - 90 : p.a + 90;
      return `translate(${cx + rr * Math.sin(t)},${cy - rr * Math.cos(t)}) rotate(${rot})`;
    })
    .text(d => d);
  g.append("line").attr("x1", lineX).attr("x2", lineX).attr("y1", lineY0).attr("y2", lineY1)
    .attr("stroke", "#000").attr("stroke-width", 3.4).attr("stroke-dasharray", "16,11");
  rings.forEach(([x, y]) => {
    g.append("circle").attr("cx", x).attr("cy", y).attr("r", 27.5).attr("fill", "none")
      .attr("stroke", "#cc1010").attr("stroke-width", 3).attr("stroke-dasharray", "9,4");
  });
}

const mT = (l) => [l, magenta, 1, 0.55], mM = (l) => [l, magenta, 1.4, 1], mB = (l) => [l, magenta, 2.8, 1];
const cT = (l) => [l, cyan, 1, 0.6], cM = (l) => [l, cyan, 1.5, 1], cB = (l) => [l, cyan, 2.8, 1];

// panel letters and headers
fit(svg, "A", 21, 83, 54, 78);
fit(svg, "Two reference frames mismatch", 149, 903, 47, 52.5);
fit(svg, "C", 1099, 1153, 54, 78);
fit(svg, "Two reference frames match", 1296, 1965, 47, 52.5);
fit(svg, "Mean over frequency", 298, 620, 141, 35);
fit(svg, "Mean over frequency", 1386, 1712, 140, 35);

// A
frameChart({ x0: 175, x1: 743, y0: 149, y1: 412 }, aBlack, aBlue, aRed);
sumHeat({ x0: 175, x1: 743, y0: 423.5, y1: 752 }, { x0: 90, x1: 108 }, "a", aHeat);
sidePlot({ x0: 753, x1: 962, y0: 421.5, y1: 749.5 }, aSideBlack, aSideBlue, aSideRed);
legendBox({ x0: 753, x1: 998, y0: 181, y1: 410 }, { h0: 762, h1: 760, s0: 763, w0: 832 });
fitRot(svg, "Frequency", 92, 283, 109, 21, -90, { family: sansCond, weight: "normal" });
fitRot(svg, "averaged z-score", 115, 281, 183, 21, -90, { family: sansCond, weight: "normal" });
fitRot(svg, "z-score summation", 15, 587, 237, 29, -90);
fitRot(svg, "Frequency (Hz)", 129, 587, 143, 19, -90);
fit(svg, "Time (ms)", 412, 506, 795, 21);
fit(svg, "Time average", 794, 921, 793, 20, { family: sansCond, weight: "normal" });
fit(svg, "z-score", 825, 891, 815, 20, { family: sansCond, weight: "normal" });
fitRot(svg, "Mean over time", 978, 590, 234, 37, 90);

// C
frameChart({ x0: 1264, x1: 1835, y0: 147, y1: 412 }, cBlack, cBlue, cRed);
sumHeat({ x0: 1265, x1: 1835, y0: 423.5, y1: 752 }, { x0: 1180, x1: 1199 }, "c", cHeat);
sidePlot({ x0: 1845, x1: 2053, y0: 424, y1: 752 }, cSideBlack, cSideBlue, cSideRed);
legendBox({ x0: 1842, x1: 2086, y0: 180, y1: 410 }, { h0: 1851, h1: 1847, s0: 1852, w0: 1920 });
fitRot(svg, "Frequency", 1180, 283, 109, 21, -90, { family: sansCond, weight: "normal" });
fitRot(svg, "averaged z-score", 1204, 281, 183, 21, -90, { family: sansCond, weight: "normal" });
fitRot(svg, "z-score summation", 1105, 587, 236, 29, -90);
fitRot(svg, "Frequency (Hz)", 1218, 587, 143, 19, -90);
fit(svg, "Time (ms)", 1503, 1598, 795, 21);
fit(svg, "Time average", 1884, 2012, 796, 20, { family: sansCond, weight: "normal" });
fit(svg, "z-score", 1916, 1982, 816, 20, { family: sansCond, weight: "normal" });
fitRot(svg, "Mean over time", 2074, 594, 236, 37, 90);

// B and D
const red = { fill: "#cc0000" };
fit(svg, "400~900ms", 27, 251, 878, 48, red);
fit(svg, "β (17~25 Hz)", 11, 269, 935, 48, red);
fit(svg, "B", 448, 497, 929, 78);
fit(svg, "200~800ms", 23, 247, 1464, 48, red);
fit(svg, "α (8~15 Hz)", 23, 258, 1520, 48, red);
fit(svg, "400~900ms", 1886, 2110, 878, 48, red);
fit(svg, "β (17~25 Hz)", 1870, 2127, 935, 48, red);
fit(svg, "D", 1645, 1696, 929, 78);
fit(svg, "200~800ms", 1886, 2110, 1464, 48, red);
fit(svg, "α (8~15 Hz)", 1886, 2114, 1520, 48, red);

chord(298.5, 1181, 172, 298, 1010, 1353, [mT(b1MagThin), mM(b1Mag), mB(b1MagThick), cT(b1CyanThin), cM(b1Cyan), cB(b1CyanThick)], [[112, 1100]]);
// the two colours are woven together in this panel
chord(301.5, 1743, 172, 302, 1572, 1915, [cT(b2CyanThin), cM(b2CyanUnder), mT(b2MagThin), mM(b2Mag), cM(b2Cyan), mB(b2MagThick), cB(b2CyanThick)],
  [[160, 1589], [201, 1572], [322, 1535], [466, 1627], [511, 1744], [485, 1827], [280, 1943]]);
chord(1835, 1182, 172, 1835, 1011, 1354, [mT(d1MagThin), mM(d1Mag), mB(d1MagThick), cT(d1CyanThin), cM(d1Cyan), cB(d1CyanThick)], [[1855, 977], [2017, 1101]]);
chord(1835.5, 1741, 172, 1836, 1570, 1913, [mT(d2MagThin), mM(d2Mag), mB(d2MagThick), cT(d2CyanThin), cM(d2Cyan), cB(d2CyanThick)], []);

fitRot(svg, "Left", 30, 1178, 66, 36, -90);
fitRot(svg, "Right", 566, 1178, 86, 36, 90);
fitRot(svg, "Left", 35, 1742, 66, 36, -90);
fitRot(svg, "Right", 567, 1745, 86, 36, 90);
fitRot(svg, "Left", 1565, 1183, 66, 36, -90);
fitRot(svg, "Right", 2100, 1187, 86, 36, 90);
fitRot(svg, "Left", 1565, 1741, 66, 36, -90);
fitRot(svg, "Right", 2100, 1745, 86, 36, 90);

// E
fit(svg, "E", 1049, 1097, 946, 78);
fit(svg, "Two reference frames mismatch", 692, 1447, 1024, 56);
fit(svg, "vs.", 1038, 1099, 1076, 50);
fit(svg, "Two reference frames match", 734, 1405, 1130, 56);
fit(svg, "Wilcoxon Signed Rank Test", 829, 1242, 1190, 35, { style: "italic" });

const eBox = { x0: 691, x1: 1377, y0: 1198, y1: 1604 };
const ex = d3.scaleLinear([-400, 1200], [eBox.x0, eBox.x1]);
const ey = d3.scaleLinear([5, 30], [eBox.y1, eBox.y0]);
const zColor = d3.scaleLinear().domain(zDomain).range(zColors).clamp(true);
svg.append("rect").attr("x", eBox.x0).attr("y", eBox.y0).attr("width", eBox.x1 - eBox.x0).attr("height", eBox.y1 - eBox.y0).attr("fill", "#000");
// the cells blend sideways in time but stay sharp between frequency rows
defs.append("clipPath").attr("id", "eclip").append("rect")
  .attr("x", eBox.x0).attr("y", eBox.y0).attr("width", eBox.x1 - eBox.x0).attr("height", eBox.y1 - eBox.y0);
defs.append("filter").attr("id", "eblur").attr("filterUnits", "userSpaceOnUse")
  .attr("x", eBox.x0 - 20).attr("y", eBox.y0).attr("width", eBox.x1 - eBox.x0 + 40).attr("height", eBox.y1 - eBox.y0)
  .append("feGaussianBlur").attr("stdDeviation", "2.5 0");
svg.append("g").attr("clip-path", "url(#eclip)").append("g").attr("filter", "url(#eblur)")
  .selectAll("rect").data(eCells).join("rect")
  .attr("x", d => ex(d[1])).attr("width", d => ex(d[2]) - ex(d[1]))
  .attr("y", d => ey(d[0] + 1)).attr("height", d => ey(d[0]) - ey(d[0] + 1))
  .attr("fill", d => zColor(d[3]));
svg.append("line").attr("x1", ex(0)).attr("x2", ex(0)).attr("y1", eBox.y0).attr("y2", eBox.y1)
  .attr("stroke", "#ddd").attr("stroke-width", 1.3).attr("stroke-dasharray", "1.5,2.5");
const eax = svg.append("g").attr("transform", `translate(0,${eBox.y1})`)
  .call(d3.axisBottom(ex).tickValues(eTimeTicks).tickSize(4).tickPadding(4).tickFormat(plainTick));
styleAxis(eax, 22, dejavu);
eax.select(".domain").remove();
const eay = svg.append("g").attr("transform", `translate(${eBox.x0},0)`)
  .call(d3.axisLeft(ey).tickValues(freqTicks).tickSize(5).tickPadding(3).tickFormat(plainTick));
styleAxis(eay, 22, dejavu);
eay.select(".domain").remove();
fitRot(svg, "Frequency (Hz)", 633, 1401, 177, 24, -90);
fit(svg, "Time (ms)", 977, 1092, 1657, 25);

const zy = d3.scaleLinear([-10, 10], [eBox.y1, eBox.y0]);
const zGrad = defs.append("linearGradient").attr("id", "ecb").attr("x1", 0).attr("x2", 0).attr("y1", 1).attr("y2", 0);
zGrad.selectAll("stop").data(zDomain).join("stop")
  .attr("offset", d => (d + 10) * 5 + "%").attr("stop-color", d => zColor(d));
svg.append("rect").attr("x", 1384).attr("y", eBox.y0).attr("width", 23).attr("height", eBox.y1 - eBox.y0)
  .attr("fill", "url(#ecb)").attr("stroke", "#888").attr("stroke-width", 1);
const eaz = svg.append("g").attr("transform", "translate(1407,0)")
  .call(d3.axisRight(zy).tickValues(zTicks).tickSize(6).tickPadding(3).tickFormat(d3.format(".1f")));
styleAxis(eaz, 22, dejavu);
eaz.select(".domain").remove();
fitRot(svg, "z-score", 1506, 1401, 107, 33, -90);

// bottom legend
const leg = svg.append("g");
leg.append("rect").attr("x", 716).attr("y", 1772).attr("width", 703).attr("height", 100)
  .attr("fill", "#fff").attr("stroke", "#000").attr("stroke-width", 4.5);
leg.append("rect").attr("x", 759).attr("y", 1812).attr("width", 90).attr("height", 28).attr("fill", "#e91aea");
leg.append("rect").attr("x", 1119).attr("y", 1811).attr("width", 90).attr("height", 23).attr("fill", "#5fcfdf");
const tx = (s, x, y, size, o = {}) => leg.append("text").attr("x", x).attr("y", y)
  .attr("font-family", serif).attr("font-size", size).attr("font-style", o.style || "normal").text(s);
tx("P", 868, 1833, 36, { style: "italic" });
tx("c", 884, 1844, 22);
tx("<", 905, 1833, 36);
tx("0.05", 938, 1810, 35);
leg.append("line").attr("x1", 934).attr("x2", 1002).attr("y1", 1825).attr("y2", 1825).attr("stroke", "#222").attr("stroke-width", 1.6);
tx("496", 941, 1862, 35);
tx("P", 1222, 1833, 36, { style: "italic" });
tx("c", 1238, 1844, 22);
tx("<", 1260, 1833, 36);
tx("0.001", 1292, 1833, 35);
</script>
</body>
</html>
